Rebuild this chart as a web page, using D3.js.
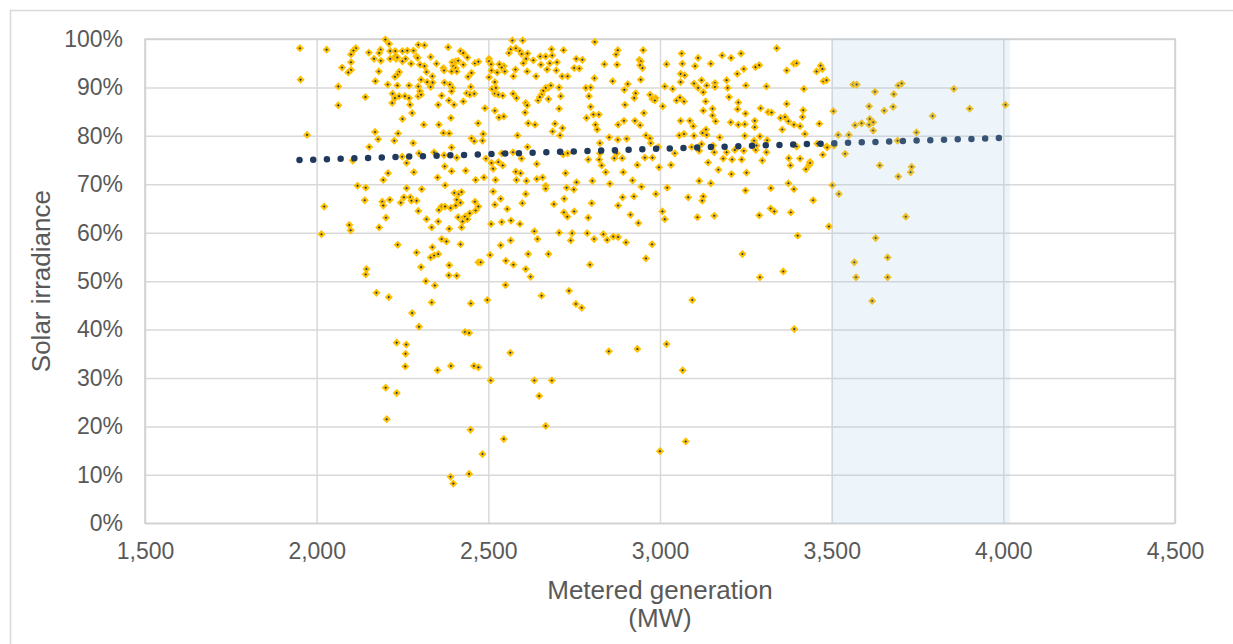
<!DOCTYPE html>
<html lang="en">
<head>
<meta charset="utf-8">
<title>Metered generation vs solar irradiance</title>
<style>
  body { margin: 0; background: #fff; }
  svg { display: block; font-family: "Liberation Sans", Arial, Helvetica, sans-serif; }
  .tick text { fill: #595959; font-size: 23px; }
  .axis-title { fill: #595959; font-size: 26px; }
</style>
</head>
<body>
<svg id="vis" width="1233" height="644"></svg>
<script src="https://cdn.jsdelivr.net/npm/d3@7"></script>
<script>

// metered generation (MW), solar irradiance (%)
var scatter = [
  [1951,98.1],[2029,97.8],[2200,99.9],[2211,99.0],[2114,98.1],[2107,97.6],[2100,96.8],[2152,97.2],[2186,97.8],[2182,97.1],
  [2167,95.9],[2187,95.5],[2100,95.2],[2074,94.1],[2100,93.6],[2092,93.1],[2181,93.3],[2214,97.5],[2229,97.5],[2250,97.5],
  [2264,97.6],[2282,97.6],[2296,98.8],[2314,98.7],[2383,98.3],[2419,97.5],[2427,97.1],[2439,96.2],[2214,95.9],[2231,95.9],
  [2229,96.4],[2235,96.2],[2250,95.4],[2259,95.9],[2275,94.9],[2291,96.4],[2294,96.1],[2301,94.7],[2314,94.4],[2332,96.3],
  [2349,94.9],[2369,94.0],[2371,93.5],[2395,95.2],[2405,95.4],[2412,95.5],[2427,94.7],[2398,94.4],[2405,94.0],[2393,93.3],
  [2408,93.3],[2461,95.0],[2471,95.3],[1953,91.6],[2063,90.2],[2171,91.3],[2207,90.6],[2235,90.4],[2240,93.2],[2235,92.6],
  [2228,92.2],[2269,90.4],[2296,90.2],[2304,91.6],[2320,93.2],[2322,91.1],[2337,92.3],[2338,91.0],[2332,90.1],[2372,91.0],
  [2388,90.6],[2395,89.9],[2393,89.2],[2441,92.2],[2451,93.0],[2449,90.1],[2437,88.8],[2446,88.5],[2459,88.7],[2142,88.0],
  [2063,86.3],[2221,88.7],[2228,87.8],[2240,88.2],[2257,88.2],[2269,87.8],[2272,86.4],[2220,86.8],[2296,88.2],[2301,89.2],
  [2304,88.5],[2364,88.3],[2354,86.4],[2385,87.3],[2400,86.4],[2427,87.1],[2278,84.7],[2250,83.5],[2312,82.3],[2356,82.3],
  [2391,83.7],[2470,82.6],[1972,80.2],[2170,80.8],[2179,79.3],[2237,80.5],[2226,79.0],[2281,78.5],[2369,80.6],[2386,80.5],
  [2451,79.5],[2459,78.9],[2153,77.7],[2393,77.6],[2298,76.4],[2342,76.6],[2371,76.0],[2408,75.5],[2105,74.9],[2249,75.7],
  [2262,74.4],[2373,73.7],[2208,72.3],[2283,72.5],[2393,72.7],[2434,72.8],

  [2570,99.7],[2600,99.7],[2565,97.9],[2560,97.1],[2580,98.1],[2592,97.5],[2597,96.9],[2614,97.0],[2610,95.9],[2602,95.0],
  [2631,95.6],[2651,96.4],[2667,96.4],[2684,97.9],[2686,96.6],[2700,95.2],[2679,95.0],[2671,93.7],[2653,94.7],[2719,97.7],
  [2756,95.9],[2774,95.7],[2750,94.0],[2765,93.9],[2715,92.3],[2731,92.3],[2698,93.5],[2639,92.3],[2613,93.3],[2579,93.7],
  [2573,92.3],[2548,93.3],[2545,94.4],[2539,94.1],[2532,94.8],[2526,93.1],[2509,93.5],[2502,95.9],[2502,95.4],[2508,94.8],
  [2502,92.1],[2519,91.1],[2810,99.4],[2838,94.8],[2809,91.9],[2875,94.7],[2872,96.8],[2877,97.7],[2951,97.7],[2940,95.7],
  [2944,95.4],[2942,94.6],[2949,94.0],[2944,91.6],[2862,91.3],[3019,94.8],[3014,90.2],[2906,90.7],[2896,89.5],[2929,88.8],
  [2925,87.8],[2971,88.5],[2978,87.6],[2987,87.8],[2985,87.3],[3008,86.1],[2898,86.4],[2953,84.7],[2878,82.3],[2895,83.1],
  [2927,83.1],[2942,82.2],[2852,79.7],[2877,79.2],[2903,79.4],[2959,80.1],[2971,79.5],[2973,78.5],[2995,77.7],[2825,78.5],
  [2784,89.9],[2798,90.0],[2793,88.2],[2798,86.0],[2786,83.7],[2806,84.4],[2822,84.4],[2812,82.3],[2817,81.3],[2706,90.0],
  [2711,88.2],[2706,85.6],[2674,89.9],[2682,90.4],[2667,89.9],[2660,89.3],[2655,88.5],[2645,87.3],[2650,88.0],[2675,87.6],
  [2572,88.7],[2582,87.8],[2511,89.7],[2522,89.9],[2519,88.7],[2529,88.5],[2542,88.3],[2490,85.7],[2519,85.2],[2531,83.8],
  [2545,84.0],[2609,86.8],[2613,86.3],[2607,84.8],[2616,82.6],[2636,82.3],[2694,82.5],[2716,81.6],[2687,80.9],[2709,80.1],
  [2585,80.1],[2485,80.4],[2483,79.0],[2614,77.7],[2493,75.3],[2509,74.4],[2529,74.6],[2542,73.9],[2514,73.2],[2597,75.3],
  [2641,74.2],[2580,72.6],[2594,72.3],[2731,76.4],[2718,76.2],[2572,76.6],[2539,76.4],[2791,75.1],[2823,75.1],[2830,73.9],
  [2842,72.5],[2867,75.4],[2890,75.4],[2893,72.5],[2934,74.0],[2956,75.5],[2978,75.5],[2997,73.5],[2874,76.4],[2825,76.4],
  [2725,72.3],

  [3340,98.1],[3063,97.0],[3065,94.9],[3111,96.1],[3102,94.4],[3148,94.9],[3181,96.6],[3207,96.1],[3236,97.0],[3244,93.8],
  [3225,92.8],[3278,94.2],[3289,94.6],[3369,93.5],[3390,94.9],[3398,95.0],[3456,93.3],[3468,94.5],[3473,93.8],[3476,91.3],
  [3485,91.5],[3060,92.8],[3072,92.5],[3060,91.1],[3099,90.8],[3121,91.5],[3111,89.9],[3126,89.0],[3136,90.4],[3160,90.9],
  [3160,90.1],[3194,91.5],[3197,89.9],[3250,90.4],[3310,90.2],[3419,89.7],[3037,89.7],[3048,87.3],[3058,87.9],[3070,87.1],
  [3133,87.1],[3201,88.0],[3228,86.9],[3226,85.5],[3249,84.6],[3293,85.7],[3315,84.9],[3325,84.8],[3369,86.6],[3417,85.3],
  [3415,83.9],[3351,83.7],[3364,83.9],[3374,83.0],[3390,82.3],[3408,82.0],[3464,82.5],[3505,85.1],[3153,85.6],[3153,84.2],
  [3162,83.0],[3126,85.2],[3060,83.1],[3087,83.1],[3097,82.0],[3134,81.3],[3124,80.6],[3136,80.2],[3056,80.1],[3070,80.4],
  [3099,80.0],[3174,79.7],[3206,82.8],[3228,82.3],[3247,82.4],[3276,83.1],[3276,81.8],[3247,80.0],[3291,79.9],[3312,79.1],
  [3356,81.3],[3422,80.4],[3563,90.6],[3573,90.6],[3568,82.2],[3550,80.2],[3519,80.2],[3121,78.3],[3114,76.9],[3043,76.4],
  [3092,77.7],[3155,78.0],[3158,76.6],[3194,76.6],[3218,77.1],[3244,76.9],[3279,77.1],[3310,76.6],[3281,78.0],[3274,79.0],
  [3398,77.8],[3474,76.1],[3539,76.3],[3184,75.3],[3210,75.1],[3238,75.1],[3140,74.5],[3170,73.0],[3298,74.9],[3375,75.4],
  [3380,73.9],[3408,75.3],[3437,74.6],[3435,74.0],[3425,73.1],[3032,74.0],[3252,72.4],[3208,72.1],[3485,77.8],

  [2194,70.9],[2352,71.4],[2463,70.9],[2119,69.7],[2143,69.3],[2262,69.2],[2306,69.0],[2374,69.8],[2401,68.2],[2414,68.0],
  [2422,68.4],[2140,66.7],[2191,66.4],[2213,66.8],[2194,65.6],[2245,66.2],[2254,67.3],[2273,67.3],[2276,66.6],[2291,66.6],
  [2296,64.5],[2356,64.7],[2364,65.4],[2374,65.4],[2390,65.1],[2405,65.6],[2419,66.2],[2408,66.8],[2461,66.4],[2471,65.4],
  [2463,64.6],[2446,64.0],[2022,65.4],[2095,61.6],[2099,60.5],[2182,61.1],[2202,63.1],[2320,62.8],[2354,62.3],[2335,61.1],
  [2386,60.8],[2412,63.2],[2425,62.3],[2432,63.3],[2439,62.8],[2422,61.1],[2014,59.7],[2236,57.5],[2291,55.9],[2337,57.0],
  [2364,58.7],[2378,58.2],[2419,57.6],[2332,54.9],[2342,55.3],[2354,55.6],[2304,52.9],[2386,53.3],[2471,53.9],[2145,52.5],
  [2143,51.4],[2385,51.2],[2408,51.1],[2318,50.0],[2344,49.1],[2174,47.6],[2210,46.7],[2335,45.6],[2449,45.4],[2278,43.4],

  [2487,71.4],[2521,70.9],[2582,70.9],[2611,70.7],[2641,71.1],[2658,71.4],[2667,69.7],[2667,69.1],[2728,69.3],[2749,68.9],
  [2757,70.4],[2803,70.7],[2854,70.1],[2920,70.8],[2946,69.5],[3021,69.3],[2988,68.0],[2924,67.5],[2891,67.3],[2878,65.6],
  [2914,63.7],[2937,62.0],[3007,64.4],[3014,62.8],[2514,68.5],[2536,67.0],[2519,65.8],[2555,64.9],[2599,66.1],[2609,68.0],
  [2691,65.9],[2721,67.0],[2720,64.2],[2730,63.3],[2750,64.4],[2801,66.1],[2791,63.1],[2508,61.8],[2539,62.2],[2566,62.5],
  [2592,61.8],[2634,60.3],[2643,58.7],[2706,60.0],[2744,59.9],[2740,58.4],[2788,59.9],[2808,58.7],[2835,59.7],[2846,58.5],
  [2864,59.2],[2878,59.1],[2901,58.0],[2977,57.6],[2536,57.4],[2565,58.4],[2505,55.4],[2478,53.9],[2551,54.2],[2573,53.4],
  [2616,55.6],[2675,55.6],[2609,52.5],[2623,50.9],[2796,53.4],[2959,54.7],[2550,49.2],[2497,46.1],[2655,47.0],[2735,48.0],
  [2755,45.3],[2772,44.5],

  [3114,70.7],[3148,70.2],[3374,70.2],[3323,69.2],[3390,69.0],[3249,68.7],[3502,69.8],[3521,68.0],[3446,66.7],[3082,67.3],
  [3126,67.5],[3123,66.6],[3109,63.2],[3158,63.5],[3289,63.6],[3322,65.0],[3333,64.4],[3381,64.2],[3492,61.3],[3401,59.4],
  [3240,55.6],[3359,52.0],[3291,50.8],[3094,46.1],[3566,53.9],[3571,50.8],

  [2298,40.6],[2233,37.3],[2261,36.9],[2259,35.0],[2258,32.4],[2201,28.0],[2233,26.9],[2204,21.5],[3391,40.1],[2432,39.5],
  [2444,39.3],[2352,31.6],[2391,32.5],[2458,32.5],[2471,32.2],[2564,35.2],[2851,35.5],[2934,36.0],[3019,37.0],[3066,31.6],
  [2507,29.5],[2634,29.5],[2685,29.5],[2648,26.3],[2667,20.1],[2448,19.3],[2545,17.4],[3075,16.9],[3000,14.9],[2483,14.3],
  [2444,10.2],[2390,9.6],[2398,8.2],

  [3626,89.1],[3694,90.4],[3704,90.8],[3681,88.6],[3856,89.7],[3609,86.1],[3653,85.2],[3679,86.0],[3902,85.6],[4006,86.4],
  [3794,84.1],[3611,83.5],[3609,82.3],[3621,82.8],[3587,82.6],[3621,81.1],[3747,80.7],[3692,79.0],[3507,78.0],[3487,77.6],
  [3458,78.4],[3437,74.4],[3640,73.9],[3733,73.6],[3730,72.5],[3694,71.6],[3716,63.3],[3628,58.9],[3663,54.9],[3663,50.8],
  [3618,45.9]
];

// linear trend: [MW, %] at both ends
var trendEnds = [[1950, 75.0], [4008, 79.6]];

// highlighted band of metered generation
var bandMW = [3500, 4020];

var xTicks = [1500, 2000, 2500, 3000, 3500, 4000, 4500];
var yTicks = [0, 10, 20, 30, 40, 50, 60, 70, 80, 90, 100];

var svg = d3.select("#vis"),
    plotL = 145, plotR = 1175, plotT = 39, plotB = 523.3;

var x = d3.scaleLinear().domain([1500, 4500]).range([plotL, plotR]);
var y = d3.scaleLinear().domain([0, 100]).range([plotB, plotT]);

// chart area border
svg.append("rect")
    .attr("x", 10.5).attr("y", 10.5)
    .attr("width", 1400).attr("height", 800)
    .attr("fill", "none")
    .attr("stroke", "#d9d9d9")
    .attr("stroke-width", 1.5);

var yAxis = svg.append("g")
    .attr("transform", "translate(" + plotL + ",0)")
    .call(d3.axisLeft(y).tickValues(yTicks).tickSize(-(plotR - plotL)).tickFormat(function(d) { return d + "%"; }));

var xAxis = svg.append("g")
    .attr("transform", "translate(0," + plotB + ")")
    .call(d3.axisBottom(x).tickValues(xTicks).tickSize(-(plotB - plotT)).tickFormat(d3.format(",")));

[xAxis, yAxis].forEach(function(a) {
  a.select(".domain").remove();
  a.selectAll(".tick line").attr("stroke", "#d9d9d9").attr("stroke-width", 1.5);
});
yAxis.selectAll(".tick text").attr("x", -22);
xAxis.selectAll(".tick text").attr("y", 36).attr("dy", null);

// plot area border
svg.append("rect")
    .attr("x", plotL).attr("y", plotT)
    .attr("width", plotR - plotL).attr("height", plotB - plotT)
    .attr("fill", "none")
    .attr("stroke", "#d0d0d0")
    .attr("stroke-width", 1.5);

var diamond = "M0,-2.7L2.7,0L0,2.7L-2.7,0Z";

svg.append("g")
  .selectAll("path")
  .data(scatter)
  .enter().append("path")
    .attr("d", diamond)
    .attr("transform", function(d) { return "translate(" + x(d[0]) + "," + y(d[1]) + ")"; })
    .attr("fill", "#203864")
    .attr("stroke", "#ffc000")
    .attr("stroke-width", 2);

svg.append("path")
    .datum(trendEnds)
    .attr("d", d3.line().x(function(d) { return x(d[0]); }).y(function(d) { return y(d[1]); }))
    .attr("fill", "none")
    .attr("stroke", "#1f3a5c")
    .attr("stroke-width", 6.5)
    .attr("stroke-linecap", "round")
    .attr("stroke-dasharray", "0 13.72");

// band shading sits on top, so marks inside it look paler
svg.append("rect")
    .attr("x", x(bandMW[0])).attr("y", plotT)
    .attr("width", x(bandMW[1]) - x(bandMW[0]))
    .attr("height", plotB - plotT)
    .attr("fill", "#a2c5e5")
    .attr("fill-opacity", 0.19);

svg.append("text")
    .attr("class", "axis-title")
    .attr("text-anchor", "middle")
    .attr("transform", "translate(49.5," + (plotT + plotB) / 2 + ") rotate(-90)")
    .text("Solar irradiance");

var xt = svg.append("text")
    .attr("class", "axis-title")
    .attr("text-anchor", "middle")
    .attr("x", (plotL + plotR) / 2)
    .attr("y", 598.5);
xt.append("tspan").attr("x", (plotL + plotR) / 2).text("Metered generation");
xt.append("tspan").attr("x", (plotL + plotR) / 2).attr("dy", 28.4).text("(MW)");

</script>
</body>
</html>
